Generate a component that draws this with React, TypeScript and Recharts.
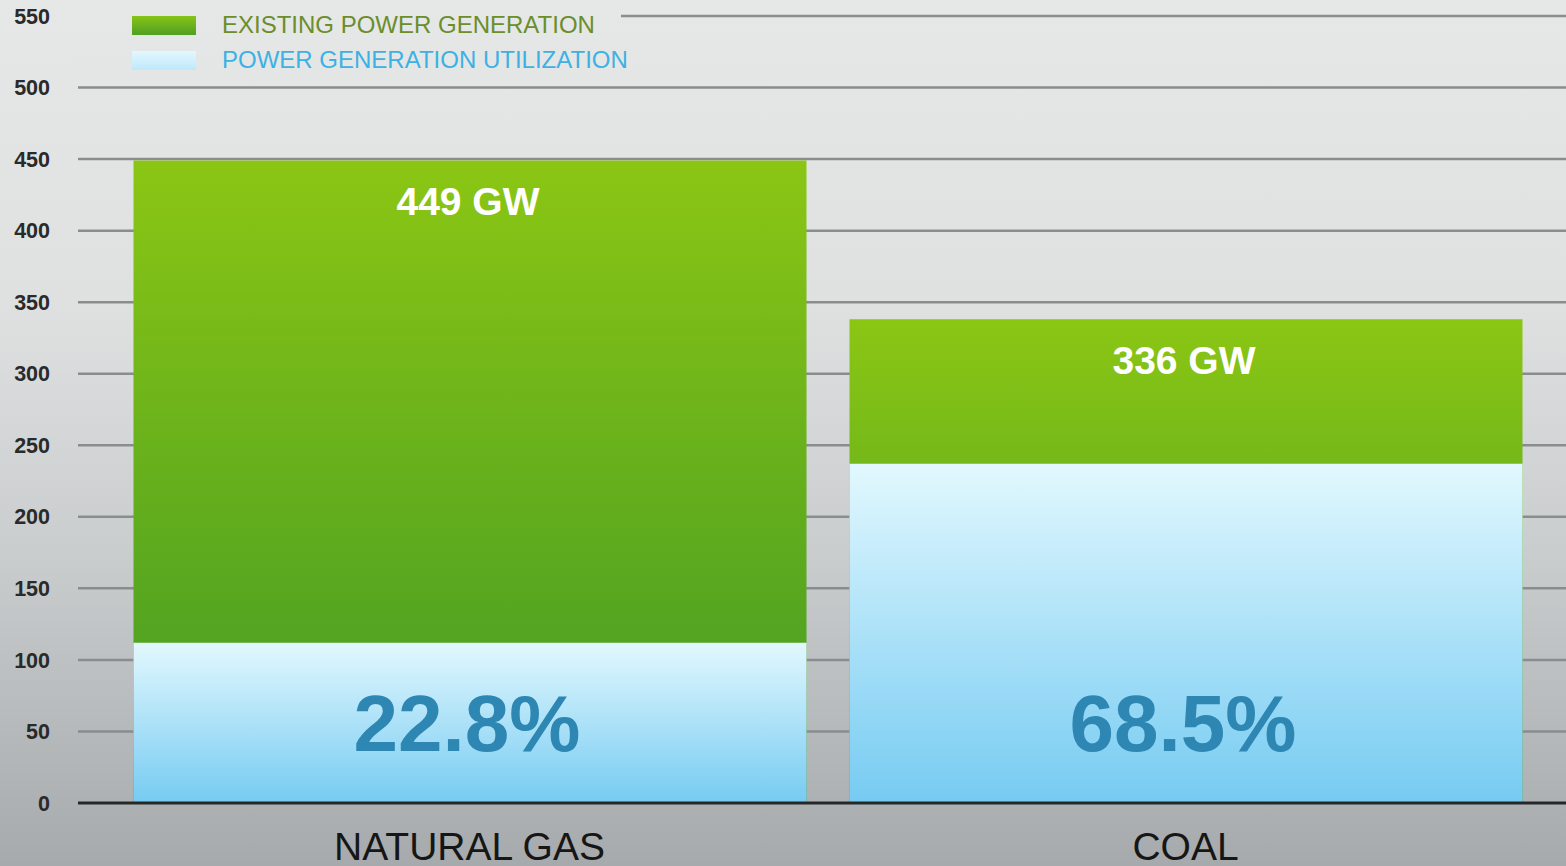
import React from 'react'
import {
  BarChart,
  Bar,
  XAxis,
  YAxis,
  CartesianGrid,
  LabelList,
} from 'recharts'

const categories = ['NATURAL GAS', 'COAL']
const existingGW = [449, 338]
const utilizationGW = [112, 237]
const capacityLabels = ['449 GW', '336 GW']
const utilizationLabels = ['22.8%', '68.5%']
const yTicks = [0, 50, 100, 150, 200, 250, 300, 350, 400, 450, 500, 550]

const FONT = '"Liberation Sans", Arial, Helvetica, sans-serif'

const data = categories.map((name, i) => ({
  name,
  existing: existingGW[i],
  utilization: utilizationGW[i],
  capLabel: capacityLabels[i],
  utilLabel: utilizationLabels[i],
}))

const legendItems = [
  { label: 'EXISTING POWER GENERATION', swatch: 'linear-gradient(#86c416, #4f9f22)', color: '#6b8e2b' },
  { label: 'POWER GENERATION UTILIZATION', swatch: 'linear-gradient(#e3f7fe, #bfe8fb)', color: '#3db1e3' },
]

function CapacityLabel(props: any) {
  const { x, y, width, value } = props
  return (
    <text
      x={x + width / 2 - 2}
      y={y + 41}
      textAnchor="middle"
      dominantBaseline="central"
      fill="#ffffff"
      fontFamily={FONT}
      fontWeight="bold"
      fontSize={39}
    >
      {value}
    </text>
  )
}

function UtilizationLabel(props: any) {
  const { x, y, width, height, value } = props
  return (
    <text
      x={x + width / 2 - 3}
      y={y + height - 80}
      textAnchor="middle"
      dominantBaseline="central"
      fill="#2e86b3"
      fontFamily={FONT}
      fontWeight="bold"
      fontSize={80}
    >
      {value}
    </text>
  )
}

export default function App() {
  return (
    <div
      style={{
        position: 'absolute',
        left: 0,
        top: 0,
        width: 1566,
        height: 866,
        overflow: 'hidden',
        background: 'linear-gradient(#e6e7e7 0%, #dfe1e1 35%, #c9cccd 65%, #a6aaac 100%)',
        fontFamily: FONT,
      }}
    >
      <BarChart
        width={1566}
        height={866}
        data={data}
        margin={{ top: 16, right: 0, bottom: 0, left: 0 }}
        barGap={-673}
        barSize={673}
      >
        <defs>
          <linearGradient id="greenFill" x1="0" y1="0" x2="0" y2="1">
            <stop offset="0%" stopColor="#8bc614" />
            <stop offset="75%" stopColor="#53a421" />
            <stop offset="100%" stopColor="#4b9e22" />
          </linearGradient>
          <linearGradient id="blueFill" x1="0" y1="0" x2="0" y2="1">
            <stop offset="0%" stopColor="#e2f8fe" />
            <stop offset="100%" stopColor="#76cbf2" />
          </linearGradient>
        </defs>
        <CartesianGrid
          horizontal
          vertical={false}
          stroke="#8a8d8e"
          strokeWidth={2.5}
          horizontalValues={yTicks.filter(t => t > 0)}
        />
        <XAxis
          dataKey="name"
          height={63}
          padding={{ left: 33.5, right: 22.5 }}
          axisLine={{ stroke: '#262828', strokeWidth: 3 }}
          tickLine={false}
          tickSize={0}
          tickMargin={29}
          tick={{ fill: '#161616', fontSize: 39, fontFamily: FONT }}
        />
        <YAxis
          width={78}
          domain={[0, 550]}
          ticks={yTicks}
          interval={0}
          axisLine={false}
          tickLine={false}
          tickSize={0}
          tickMargin={28}
          tick={{ fill: '#2a2a2a', fontSize: 21.5, fontWeight: 'bold', fontFamily: FONT }}
        />
        <Bar dataKey="existing" fill="url(#greenFill)" isAnimationActive={false}>
          <LabelList dataKey="capLabel" content={CapacityLabel} />
        </Bar>
        <Bar dataKey="utilization" fill="url(#blueFill)" isAnimationActive={false}>
          <LabelList dataKey="utilLabel" content={UtilizationLabel} />
        </Bar>
      </BarChart>

      {/* Legend */}
      <div
        style={{
          position: 'absolute',
          left: 78,
          top: 0,
          width: 543,
          height: 80,
          background: 'linear-gradient(#e6e7e7, #e4e6e6)',
        }}
      >
        {legendItems.map((item, i) => (
          <div
            key={item.label}
            style={{
              position: 'absolute',
              left: 54,
              top: i === 0 ? 10 : 45,
              height: 30,
              display: 'flex',
              alignItems: 'center',
            }}
          >
            <span
              style={{
                display: 'inline-block',
                width: 64,
                height: 19,
                background: item.swatch,
              }}
            />
            <span
              style={{
                marginLeft: 26,
                fontSize: 24,
                color: item.color,
                whiteSpace: 'nowrap',
              }}
            >
              {item.label}
            </span>
          </div>
        ))}
      </div>
    </div>
  )
}
